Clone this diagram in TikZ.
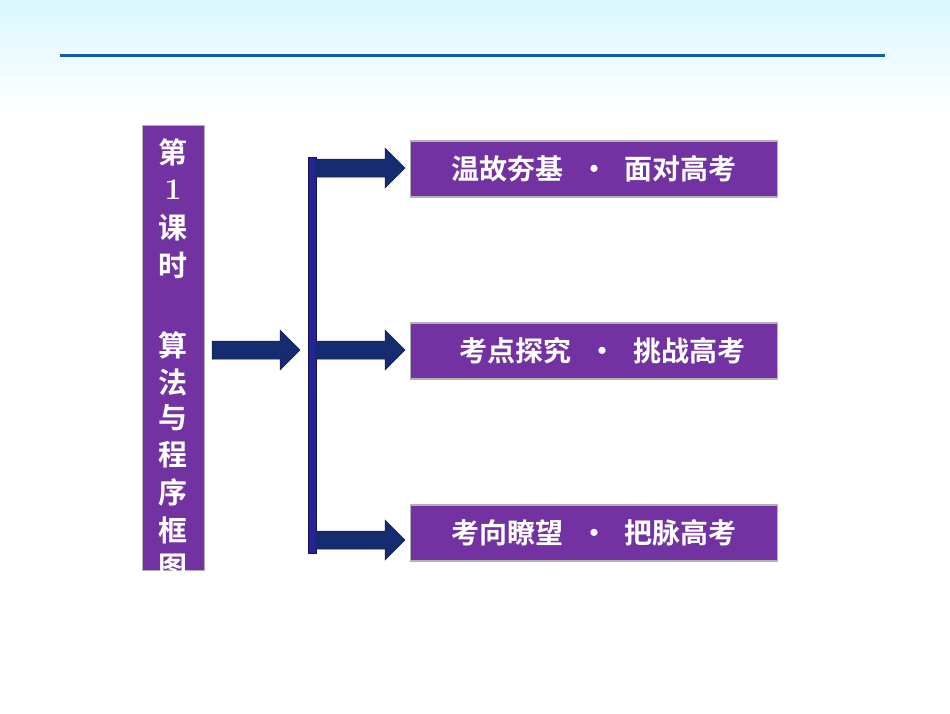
\documentclass[tikz,border=0pt]{standalone}
\usepackage{fontspec}
\newfontfamily\cjk{Noto Sans CJK SC}[BoldFont={Noto Sans CJK SC Bold}]
\begin{document}
\begin{tikzpicture}[x=1pt,y=-1pt,
  box/.style={draw=gray!60,line width=1.2pt,fill=purp,minimum width=367pt,minimum height=56pt,inner sep=0pt,font=\cjk\bfseries\fontsize{28}{28}\selectfont,text=white},
  arr/.style={fill=navy,draw=navy!70!black,line width=0.5pt}]
\definecolor{purp}{RGB}{114,50,162}
\definecolor{navy}{RGB}{22,44,112}
\definecolor{barc}{RGB}{36,36,150}
\definecolor{lineb}{RGB}{18,90,170}
\useasboundingbox (0,0) rectangle (950,713);
\fill[white] (0,0) rectangle (950,713);
\shade[top color=blue!20!cyan!15,bottom color=white] (0,0) rectangle (950,110);
\draw[lineb,line width=3pt] (60,55) -- (885,55);
% left box
\node[draw=gray!60,line width=1.2pt,fill=purp,minimum width=62pt,minimum height=445pt,inner sep=0pt,anchor=north west] (L) at (142,125) {};
\begin{scope}
\clip (142,125) rectangle (204,570);
\foreach \c/\y in {第/152,课/228,时/265,算/345,法/382,与/418,程/455,序/492,框/530,图/567}
  \node[text=white,font=\cjk\bfseries\fontsize{29}{29}\selectfont] at (173,\y) {\c};
\node[text=white,font=\bfseries\fontsize{30}{30}\selectfont] at (173,190) {1};
\end{scope}
% bar
\fill[barc,draw=barc!60!black] (308,157) rectangle (316,553);
\coordinate (bar) at (312,350);
% arrows
\foreach \xa/\xb/\y in {212/300/350,316/405/168,316/405/350,316/405/540}
  \path[arr] (\xa,\y-9) -- (\xb-20,\y-9) -- (\xb-20,\y-20) -- (\xb,\y) -- (\xb-20,\y+20) -- (\xb-20,\y+9) -- (\xa,\y+9) -- cycle;
\node[box,anchor=west] (b1) at (410,169) {温故夯基\hspace{0.6em}·\hspace{0.6em}面对高考};
\node[box,anchor=west] (b2) at (410,351) {\hspace{0.6em}考点探究\hspace{0.6em}·\hspace{0.6em}挑战高考};
\node[box,anchor=west] (b3) at (410,533) {考向瞭望\hspace{0.6em}·\hspace{0.6em}把脉高考};
\end{tikzpicture}
\end{document}
